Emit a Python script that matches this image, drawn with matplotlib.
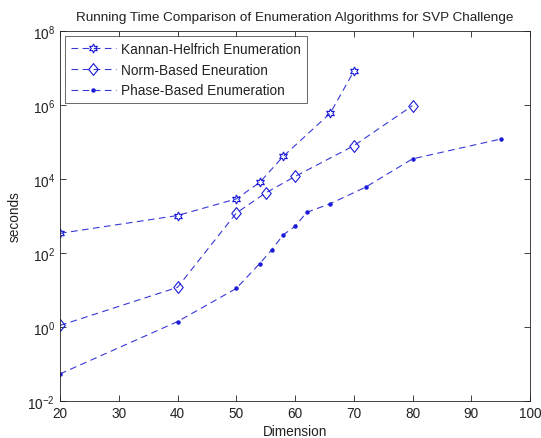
import matplotlib
matplotlib.use("Agg")
import matplotlib.pyplot as plt
from matplotlib.path import Path
import numpy as np

plt.rcParams['font.family'] = ['Liberation Sans', 'DejaVu Sans']
plt.rcParams['mathtext.fontset'] = 'custom'
plt.rcParams['mathtext.rm'] = 'Liberation Sans'
plt.rcParams['mathtext.it'] = 'Liberation Sans'

# Data
kannan_dim = [20, 40, 50, 54, 58, 66, 70]
kannan_time = [340, 1030, 2900, 8100, 41000, 6.0e5, 8.1e6]

norm_dim = [20, 40, 50, 55, 60, 70, 80]
norm_time = [1.1, 11.8, 1200, 4200, 11700, 79000, 9.6e5]

phase_dim = [20, 40, 50, 54, 56, 58, 60, 62, 66, 72, 80, 95]
phase_time = [0.054, 1.4, 11, 52, 120, 310, 525, 1260, 2150, 6000, 35000, 1.2e5]

labels = ['Kannan-Helfrich Enumeration', 'Norm-Based Eneuration', 'Phase-Based Enumeration']
title = 'Running Time Comparison of Enumeration Algorithms for SVP Challenge'

diamond = Path([(0, 1), (0.8, 0), (0, -1), (-0.8, 0), (0, 1)],
               [Path.MOVETO, Path.LINETO, Path.LINETO, Path.LINETO, Path.CLOSEPOLY])

fig = plt.figure(figsize=(5.41, 4.39), dpi=100)
ax = fig.add_axes([60/541, 37/439, 470/541, 370/439])

lc = (0.22, 0.22, 0.85)
mc = (0.1, 0.1, 0.85)
dash = (0, (6, 4))
ax.plot(kannan_dim, kannan_time, linestyle=dash, color=lc, lw=0.8,
        marker=(6, 1, 0), markersize=6.5, markerfacecolor='none',
        markeredgecolor=mc, markeredgewidth=0.8, label=labels[0])
ax.plot(norm_dim, norm_time, linestyle=dash, color=lc, lw=0.8,
        marker=diamond, markersize=8.5, markerfacecolor='none',
        markeredgecolor=mc, markeredgewidth=0.8, label=labels[1])
ax.plot(phase_dim, phase_time, linestyle=dash, color=lc, lw=0.8,
        marker='o', markersize=2.2, markerfacecolor=mc,
        markeredgecolor=mc, label=labels[2])

ax.set_yscale('log')
ax.set_xlim(20, 100)
ax.set_ylim(1e-2, 1e8)
ax.set_xticks(np.arange(20, 101, 10))
ax.set_yticks([1e-2, 1, 1e2, 1e4, 1e6, 1e8])
ax.yaxis.set_minor_locator(matplotlib.ticker.NullLocator())
ax.tick_params(direction='in', top=True, right=True, labelsize=9.8, length=4,
               width=0.6, colors='#222222')
for s in ax.spines.values():
    s.set_linewidth(0.6)
    s.set_color('#222222')

ax.set_title(title, fontsize=9.7, pad=8, color='#222222')
ax.set_xlabel('Dimension', fontsize=9.8, labelpad=3, color='#222222')
ax.set_ylabel('seconds', fontsize=9.8, labelpad=4, color='#222222')

leg = ax.legend(loc='upper left', fontsize=9.8, frameon=True, fancybox=False,
                edgecolor='#222222', handlelength=3.3, borderaxespad=0.4,
                labelspacing=0.5, borderpad=0.4, handletextpad=0.4)
leg.get_frame().set_linewidth(0.6)
for t in leg.get_texts():
    t.set_color('#222222')

fig.savefig('out.png', dpi=100)
